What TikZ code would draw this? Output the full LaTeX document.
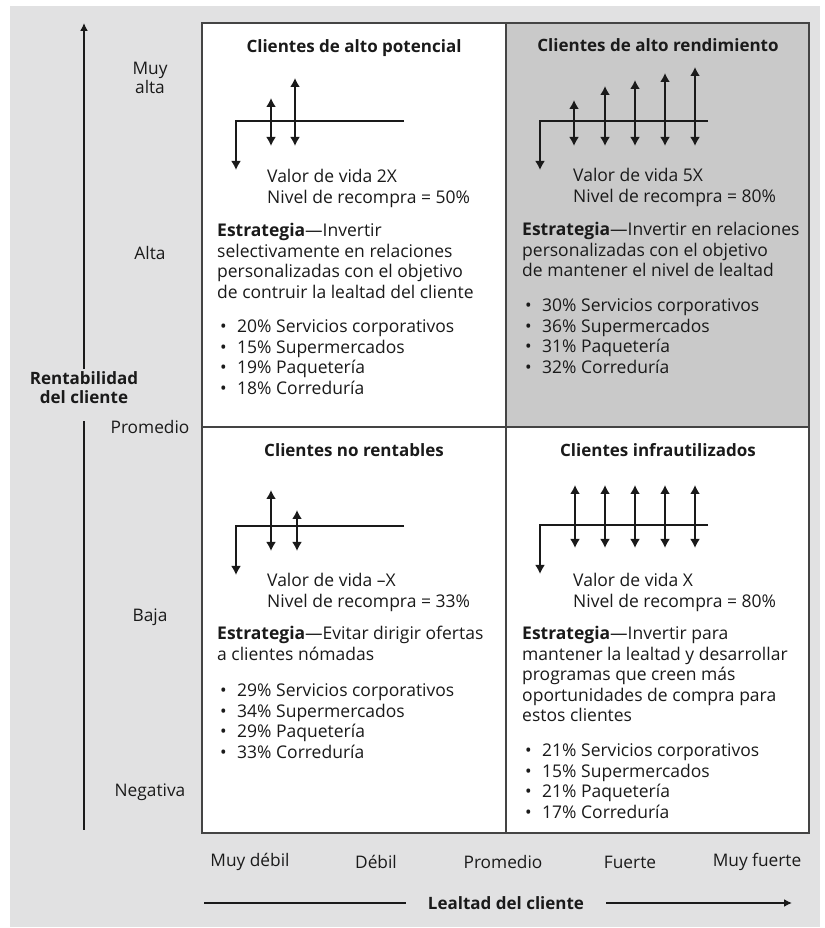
\documentclass[tikz,border=0pt]{standalone}
\usepackage{fontspec}
\setmainfont{Open Sans}
\usetikzlibrary{arrows.meta,positioning}

\definecolor{panelgrey}{HTML}{E1E1E2}
\definecolor{boxgrey}{HTML}{C9C9C9}
\definecolor{inkgrey}{HTML}{1A1A1A}
\definecolor{gridgrey}{HTML}{444444}

\newcommand{\boxfont}{\fontsize{17.5}{20.5}\selectfont}
\newcommand{\headfont}{\fontsize{17}{19}\selectfont\bfseries}
\newcommand{\axisfont}{\fontsize{17.3}{19}\selectfont}

\tikzset{
  flowline/.style={line width=2pt,inkgrey},
  flowtip/.style={flowline,{Latex[length=9pt,width=10pt]}-{Latex[length=9pt,width=10pt]}},
  boxtext/.style={anchor=base west,align=left,inner sep=0pt,font=\boxfont,text=inkgrey},
  boxhead/.style={anchor=base,inner sep=0pt,font=\headfont,text=inkgrey},
  axislabel/.style={align=center,inner sep=0pt,font=\axisfont,text=inkgrey},
  axisline/.style={line width=2.2pt,inkgrey},
}

% base of a cash flow: from the right end, back left and down
\newcommand{\flowbase}[2]{%
  \draw[flowline,-{Latex[length=9pt,width=10pt]}] (#1+168,#2) -| (#1,#2-49);
}
% one flow: double arrow at x=#1, from #2 (top) to #3 (bottom)
\newcommand{\flowtick}[3]{%
  \draw[flowtip] (#1,#3) -- (#1,#2);
}
\newcommand{\bulletline}[1]{\makebox[17pt][l]{\textbullet}#1}

\begin{document}
\begin{tikzpicture}[x=1pt,y=1pt]
  \useasboundingbox (0,0) rectangle (824,928);
  \fill[panelgrey] (10,1) rectangle (820,922);

  % quadrants
  \fill[white] (202,95) rectangle (809,905);
  \fill[boxgrey] (506,501) rectangle (809,905);
  \draw[gridgrey,line width=1.5pt] (202,95) rectangle (809,905);
  \draw[gridgrey,line width=1.5pt] (506,95) -- (506,905);
  \draw[gridgrey,line width=1.5pt] (202,501) -- (809,501);

  % vertical axis
  \node[axislabel,font=\headfont] (yname) at (84,540) {Rentabilidad\\del cliente};
  \coordinate (ytop) at (84,905);
  \coordinate (ybot) at (84,98);
  \draw[axisline,-{Latex[length=8pt,width=8pt]}] ([yshift=3pt]yname.north) -- (ytop);
  \draw[axisline] ([yshift=-17pt]yname.south) -- (ybot);
  \node[axislabel] (ymuyalta) at (150,850) {Muy\\alta};
  \node[axislabel] (yalta) at (150,675) {Alta};
  \node[axislabel] (yprom) at (150,501) {Promedio};
  \node[axislabel] (ybaja) at (150,311) {Baja};
  \node[axislabel] (yneg) at (150,136) {Negativa};

  % horizontal axis
  \node[axislabel] (xmuydebil) at (250,66) {Muy débil};
  \node[axislabel] (xdebil) at (376,66) {Débil};
  \node[axislabel] (xprom) at (503,66) {Promedio};
  \node[axislabel] (xfuerte) at (630,66) {Fuerte};
  \node[axislabel] (xmuyfuerte) at (757,66) {Muy fuerte};
  \node[axislabel,font=\headfont] (xname) at (506,25) {Lealtad del cliente};
  \coordinate (xleft) at (204,25);
  \coordinate (xright) at (792,25);
  \draw[axisline] (xleft) -- ([xshift=-22pt]xname.west);
  \draw[axisline,-{Latex[length=8pt,width=8pt]}] ([xshift=22pt]xname.east) -- (xright);

  % alto potencial
  \node[boxhead] (hpot) at (354,875) {Clientes de alto potencial};
  \flowbase{236}{807}
  \flowtick{271}{830}{782}
  \flowtick{295}{850}{782}
  \node[boxtext] (vpot) at (267,724.5) {Valor de vida 2X\\Nivel de recompra = 50\%};
  \node[boxtext] (epot) at (217,629.5) {\textbf{Estrategia}—Invertir\\selectivamente en relaciones\\personalizadas con el objetivo\\de contruir la lealtad del cliente};
  \node[boxtext] (lpot) at (220,533.5) {\bulletline{20\% Servicios corporativos}\\\bulletline{15\% Supermercados}\\\bulletline{19\% Paquetería}\\\bulletline{18\% Correduría}};

  % alto rendimiento
  \node[boxhead] (hren) at (658,876) {Clientes de alto rendimiento};
  \flowbase{540}{807}
  \flowtick{574}{828}{782}
  \flowtick{605}{842}{782}
  \flowtick{635}{848}{782}
  \flowtick{665}{855}{782}
  \flowtick{695}{861}{782}
  \node[boxtext] (vren) at (573,725.5) {Valor de vida 5X\\Nivel de recompra = 80\%};
  \node[boxtext] (eren) at (522,651) {\textbf{Estrategia}—Invertir en relaciones\\personalizadas con el objetivo\\de mantener el nivel de lealtad};
  \node[boxtext] (lren) at (525,554.5) {\bulletline{30\% Servicios corporativos}\\\bulletline{36\% Supermercados}\\\bulletline{31\% Paquetería}\\\bulletline{32\% Correduría}};

  % no rentables
  \node[boxhead] (hnor) at (354,471) {Clientes no rentables};
  \flowbase{236}{402}
  \flowtick{271}{438}{377}
  \flowtick{297}{418}{377}
  \node[boxtext] (vnor) at (267,320.5) {Valor de vida –X\\Nivel de recompra = 33\%};
  \node[boxtext] (enor) at (217,267.5) {\textbf{Estrategia}—Evitar dirigir ofertas\\a clientes nómadas};
  \node[boxtext] (lnor) at (220,169.5) {\bulletline{29\% Servicios corporativos}\\\bulletline{34\% Supermercados}\\\bulletline{29\% Paquetería}\\\bulletline{33\% Correduría}};

  % infrautilizados
  \node[boxhead] (hinf) at (658,471) {Clientes infrautilizados};
  \flowbase{540}{403}
  \flowtick{575}{443}{380}
  \flowtick{605}{443}{380}
  \flowtick{635}{443}{380}
  \flowtick{665}{443}{380}
  \flowtick{695}{443}{380}
  \node[boxtext] (vinf) at (573,320.5) {Valor de vida X\\Nivel de recompra = 80\%};
  \node[boxtext] (einf) at (522,206) {\textbf{Estrategia}—Invertir para\\mantener la lealtad y desarrollar\\programas que creen más\\oportunidades de compra para\\estos clientes};
  \node[boxtext] (linf) at (525,109.5) {\bulletline{21\% Servicios corporativos}\\\bulletline{15\% Supermercados}\\\bulletline{21\% Paquetería}\\\bulletline{17\% Correduría}};
\end{tikzpicture}
\end{document}
